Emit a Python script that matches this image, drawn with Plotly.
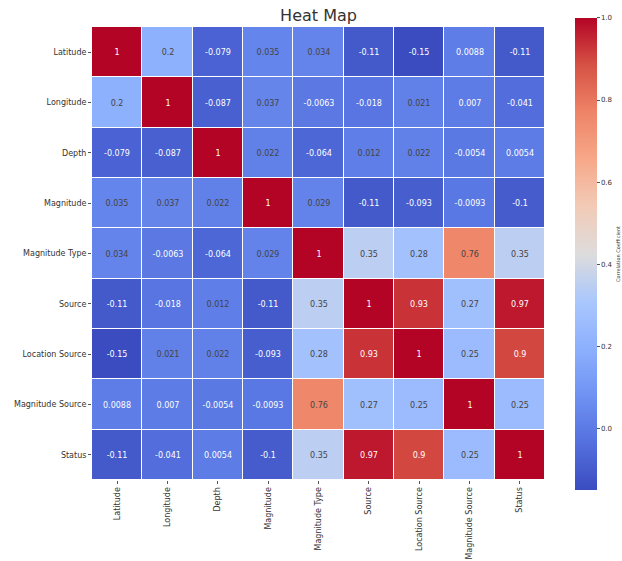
import plotly.graph_objects as go

labels = ["Latitude", "Longitude", "Depth", "Magnitude", "Magnitude Type",
          "Source", "Location Source", "Magnitude Source", "Status"]

# Pairwise correlation coefficients (row order = labels)
row_latitude = [1, 0.2, -0.079, 0.035, 0.034, -0.11, -0.15, 0.0088, -0.11]
row_longitude = [0.2, 1, -0.087, 0.037, -0.0063, -0.018, 0.021, 0.007, -0.041]
row_depth = [-0.079, -0.087, 1, 0.022, -0.064, 0.012, 0.022, -0.0054, 0.0054]
row_magnitude = [0.035, 0.037, 0.022, 1, 0.029, -0.11, -0.093, -0.0093, -0.1]
row_magnitude_type = [0.034, -0.0063, -0.064, 0.029, 1, 0.35, 0.28, 0.76, 0.35]
row_source = [-0.11, -0.018, 0.012, -0.11, 0.35, 1, 0.93, 0.27, 0.97]
row_location_source = [-0.15, 0.021, 0.022, -0.093, 0.28, 0.93, 1, 0.25, 0.9]
row_magnitude_source = [0.0088, 0.007, -0.0054, -0.0093, 0.76, 0.27, 0.25, 1, 0.25]
row_status = [-0.11, -0.041, 0.0054, -0.1, 0.35, 0.97, 0.9, 0.25, 1]

corr = [row_latitude, row_longitude, row_depth, row_magnitude, row_magnitude_type,
        row_source, row_location_source, row_magnitude_source, row_status]

cbar_ticks = [0.0, 0.2, 0.4, 0.6, 0.8, 1.0]

# matplotlib-style "coolwarm" colour ramp
coolwarm = [
    [0.0, "#3b4cc0"], [0.1, "#5470de"], [0.2, "#6f92f3"], [0.3, "#8db0fe"],
    [0.4, "#aac7fd"], [0.5, "#dddcdc"], [0.6, "#f2cbb7"], [0.7, "#f7a889"],
    [0.8, "#ee8468"], [0.9, "#d65244"], [1.0, "#b40426"],
]

text = [[format(v, ".2g") for v in row] for row in corr]

fig = go.Figure(go.Heatmap(
    z=corr, x=labels, y=labels,
    text=text, texttemplate="%{text}",
    textfont=dict(size=8, family="DejaVu Sans"),
    colorscale=coolwarm, zmin=-0.15, zmax=1.0,
    xgap=1, ygap=1,
    colorbar=dict(
        x=1.066, xanchor="left", xref="paper", xpad=0,
        y=0.499, yanchor="middle", ypad=0,
        lenmode="pixels", len=472, thickness=22,
        outlinewidth=0,
        tickvals=cbar_ticks, tickformat=".1f",
        ticks="outside", ticklen=3, tickcolor="#555",
        tickfont=dict(size=7, color="#333", family="DejaVu Sans"),
        title=dict(text="Correlation Coefficient", side="right",
                   font=dict(size=5, color="#333", family="DejaVu Sans")),
    ),
))

fig.update_layout(
    width=622, height=561,
    margin=dict(l=92, r=77, t=27, b=81, autoexpand=False),
    paper_bgcolor="white", plot_bgcolor="white",
    title=dict(text="Heat Map", x=0.5, xref="paper", xanchor="center",
               y=0.973, yanchor="middle",
               font=dict(size=16, color="#333", family="DejaVu Sans")),
)
fig.update_xaxes(tickangle=-90, ticks="outside", ticklen=3, tickcolor="#555",
                 tickfont=dict(size=8, color="#333", family="DejaVu Sans"),
                 showgrid=False, zeroline=False)
fig.update_yaxes(autorange="reversed", ticks="outside", ticklen=3, tickcolor="#555",
                 tickfont=dict(size=8, color="#333", family="DejaVu Sans"),
                 showgrid=False, zeroline=False)

fig.write_html("out.html")
